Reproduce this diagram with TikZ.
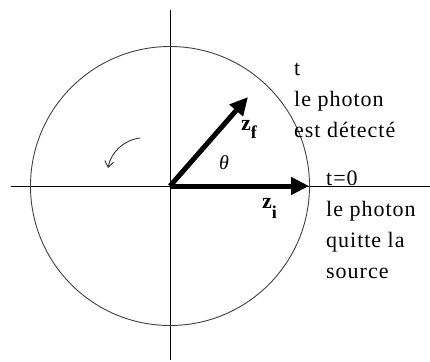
\documentclass[tikz,border=0pt]{standalone}
\usepackage{fontspec}
\setmainfont{Liberation Serif}
\newfontfamily\spacedfont[LetterSpace=4.5]{Liberation Serif}
\usetikzlibrary{arrows.meta}
\begin{document}
\begin{tikzpicture}[x=1pt,y=-1pt,
  axis/.style={line width=0.9pt,black},
  vec/.style={line width=5pt,-{Triangle[length=18pt,width=17pt]}},
  lbl/.style={font=\spacedfont\fontsize{22}{31}\selectfont,anchor=north west,align=left,inner sep=0pt},
  vlbl/.style={font=\fontsize{22}{24}\selectfont\bfseries,anchor=base west,inner sep=0pt},
  sublbl/.style={font=\fontsize{18}{18}\selectfont\bfseries}]
\useasboundingbox (0,0) rectangle (430,361);
\coordinate (O) at (170,186);
\coordinate (xl) at (11,186);
\coordinate (xr) at (430,186);
\coordinate (yt) at (170,10);
\coordinate (yb) at (170,360);
\coordinate (zi) at (309,186);
\coordinate (zf) at (248,97);
\draw[axis] (xl) -- (xr);
\draw[axis] (yt) -- (yb);
\draw[line width=0.9pt,black!75] (O) circle[radius=139.5];
\draw[vec] (O) -- (zi);
\draw[vec] (O) -- (zf);
\node[vlbl] (lzf) at (241,130) {z\raisebox{-8pt}{\fontsize{18}{18}\selectfont f}};
\node[vlbl] (lzi) at (262,208) {z\raisebox{-10pt}{\fontsize{18}{18}\selectfont i}};
\node[font=\fontsize{20}{22}\selectfont\itshape,inner sep=0pt] (lth) at (224,163) {θ};
\coordinate (ra) at (140,138);
\coordinate (rb) at (108,168);
\draw[line width=0.9pt,black!80,-{Straight Barb[length=6pt,width=9pt]}] (ra) .. controls (124,140) and (111,152) .. (rb);
\node[lbl] (tt) at (294,63) {t\\le photon\\est détecté};
\node[lbl] (t0) at (326,171) {t=0\\le photon\\quitte la\\source};
\end{tikzpicture}
\end{document}
